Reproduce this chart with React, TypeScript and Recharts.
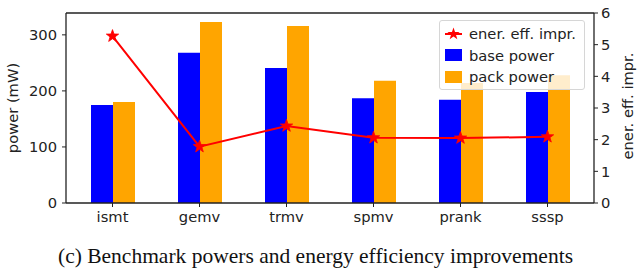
import { Bar, ComposedChart, Line, ReferenceLine, XAxis, YAxis } from "recharts";

const benchmarks = ["ismt", "gemv", "trmv", "spmv", "prank", "sssp"];
const basePower = [175, 268, 241, 187, 184, 198];
const packPower = [180, 323, 316, 218, 214, 228];
const energyEffImpr = [5.27, 1.78, 2.43, 2.06, 2.05, 2.09];
const powerTicks = [0, 100, 200, 300];
const imprTicks = [0, 1, 2, 3, 4, 5, 6];

const legendItems = [
    { label: "ener. eff. impr.", kind: "line", color: "#ff0000" },
    { label: "base power", kind: "box", color: "#0000ff" },
    { label: "pack power", kind: "box", color: "#ffa500" },
];

const font = "'DejaVu Sans', sans-serif";
const ink = "#222";
const fontSize = 14.7;

function starPath(cx: number, cy: number, outer: number, inner: number) {
    let d = "";
    for (let i = 0; i < 10; i++) {
        const r = i % 2 === 0 ? outer : inner;
        const a = -Math.PI / 2 + (i * Math.PI) / 5;
        d += (i === 0 ? "M" : "L") + (cx + r * Math.cos(a)).toFixed(2) + "," + (cy + r * Math.sin(a)).toFixed(2);
    }
    return d + "Z";
}

const StarDot = (props: any) => {
    const { cx, cy, index } = props;
    if (cx == null || cy == null) return null;
    return <path key={"star" + index} d={starPath(cx, cy, 6.5, 2.6)} fill="#ff0000" stroke="#ff0000" strokeWidth={0.8} />;
};

function App() {
    const data = benchmarks.map((name, i) => ({
        name,
        base: basePower[i],
        pack: packPower[i],
        impr: energyEffImpr[i],
    }));
    const tick = { fill: ink, fontSize, fontFamily: font };

    return (
        <div style={{ position: "absolute", left: 0, top: 0, width: 638, height: 269, background: "#fff", overflow: "hidden" }}>
            <ComposedChart width={638} height={240} data={data} margin={{ top: 13, right: 0, left: 0, bottom: 0 }} barGap={0}>
                <XAxis dataKey="name" height={37} padding={{ left: 3, right: 3 }} tick={tick} tickSize={4} tickMargin={5}
                    stroke={ink} tickLine={{ stroke: ink }} axisLine={{ stroke: ink, strokeWidth: 1.3 }} />
                <YAxis yAxisId="left" width={66} domain={[0, 339]} ticks={powerTicks} tick={tick} tickSize={4} tickMargin={5}
                    stroke={ink} axisLine={{ stroke: ink, strokeWidth: 1.3 }}
                    label={{ content: () => (
                        <text x={12} y={108} transform="rotate(-90, 12, 108)" textAnchor="middle" dominantBaseline="central"
                            fill={ink} fontSize={fontSize} fontFamily={font}>power (mW)</text>
                    ) }} />
                <YAxis yAxisId="right" orientation="right" width={44} domain={[0, 6]} ticks={imprTicks} tick={tick} tickSize={4} tickMargin={3}
                    stroke={ink} axisLine={{ stroke: ink, strokeWidth: 1.3 }}
                    label={{ content: () => (
                        <text x={627} y={106} transform="rotate(-90, 627, 106)" textAnchor="middle" dominantBaseline="central"
                            fill={ink} fontSize={fontSize} fontFamily={font}>ener. eff. impr.</text>
                    ) }} />
                <ReferenceLine yAxisId="left" y={339} stroke={ink} strokeWidth={1.3} ifOverflow="visible" />
                <Bar yAxisId="left" dataKey="base" fill="#0000ff" barSize={22} isAnimationActive={false} />
                <Bar yAxisId="left" dataKey="pack" fill="#ffa500" barSize={22} isAnimationActive={false} />
                <Line yAxisId="right" dataKey="impr" stroke="#ff0000" strokeWidth={2} type="linear" dot={StarDot}
                    activeDot={false} isAnimationActive={false} />
            </ComposedChart>

            <div style={{
                position: "absolute", left: 439, top: 20, width: 146, height: 70, boxSizing: "border-box",
                background: "rgba(255,255,255,0.8)", border: "1px solid #d6d6d6", borderRadius: 3,
                fontFamily: font, fontSize, color: ink, paddingTop: 2,
            }}>
                {legendItems.map((it) => (
                    <div key={it.label} style={{ display: "flex", alignItems: "center", height: 21.5, whiteSpace: "nowrap" }}>
                        <svg width={29} height={16} style={{ flex: "none" }}>
                            {it.kind === "line" ? (
                                <g>
                                    <line x1={5} y1={8} x2={22} y2={8} stroke={it.color} strokeWidth={2} />
                                    <path d={starPath(13.5, 8, 6.5, 2.6)} fill={it.color} />
                                </g>
                            ) : (
                                <rect x={5} y={2} width={17} height={12} fill={it.color} />
                            )}
                        </svg>
                        <span>{it.label}</span>
                    </div>
                ))}
            </div>

            <div style={{
                position: "absolute", left: 0, width: 631, top: 241, textAlign: "center",
                fontFamily: "'Liberation Serif', 'Times New Roman', serif", fontSize: 21.5, color: "#111", lineHeight: "30px",
            }}>
                (c) Benchmark powers and energy efficiency improvements
            </div>
        </div>
    );
}

export default App;
